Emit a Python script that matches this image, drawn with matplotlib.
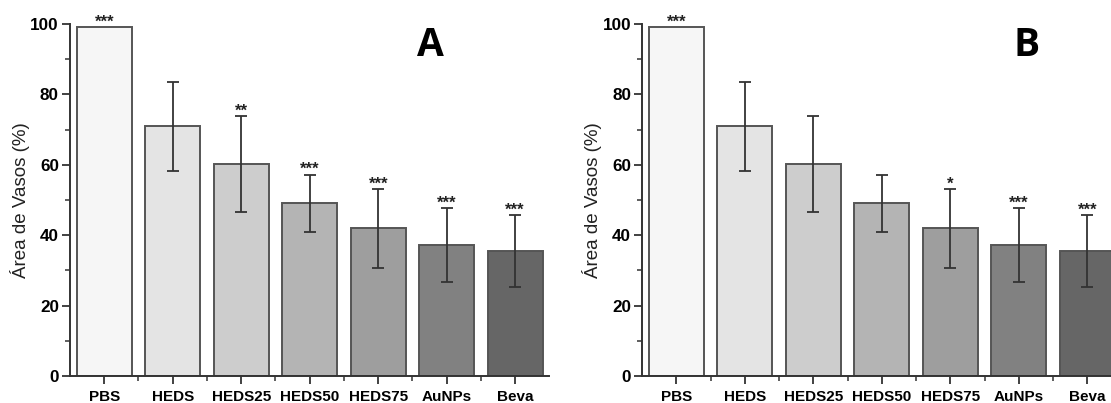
import matplotlib.pyplot as plt

plt.rcParams['font.family'] = ['Liberation Sans', 'DejaVu Sans']

# data
categories = ['PBS', 'HEDS', 'HEDS25', 'HEDS50', 'HEDS75', 'AuNPs', 'Beva']
area = [99.2, 70.9, 60.2, 49.1, 41.9, 37.2, 35.5]
err = [0, 12.7, 13.6, 8.1, 11.1, 10.4, 10.3]
stars_a = ['***', '', '**', '***', '***', '***', '***']
stars_b = ['***', '', '', '', '*', '***', '***']
bar_colors = ['#f6f6f6', '#e4e4e4', '#cdcdcd', '#b4b4b4', '#9e9e9e', '#818181', '#666666']

fig = plt.figure(figsize=(11.11, 4.03), dpi=100)
ax_a = fig.add_axes([0.063, 0.067, 0.4315, 0.8737])
ax_b = fig.add_axes([0.578, 0.067, 0.4315, 0.8737])


def draw_panel(ax, stars, letter, letter_x):
    x = range(len(categories))
    ax.bar(x, area, width=0.8, color=bar_colors, edgecolor='#555555', linewidth=1.4, zorder=2)
    for i in x:
        if err[i] > 0:
            ax.errorbar(i, area[i], yerr=err[i], fmt='none', ecolor='#333333',
                        elinewidth=1.3, capsize=4, capthick=1.3, zorder=3)
        if stars[i]:
            ax.annotate(stars[i], (i, area[i] + err[i]), xytext=(0, 0.3),
                        textcoords='offset points', ha='center', va='baseline',
                        fontsize=12, fontweight='bold', color='#222222')
    ax.set_xlim(-0.5, len(categories) - 0.5)
    ax.set_ylim(0, 100)
    ax.set_yticks([0, 20, 40, 60, 80, 100])
    ax.set_yticks([10, 30, 50, 70, 90], minor=True)
    ax.set_xticks(list(x))
    ax.set_xticks([i + 0.5 for i in range(len(categories) - 1)], minor=True)
    ax.set_xticklabels(categories, fontsize=11, fontweight='bold')
    for lab in ax.get_yticklabels():
        lab.set_fontsize(12.3)
        lab.set_fontweight('bold')
    ax.tick_params(axis='both', which='major', direction='out', length=6, width=1.3, color='#333333', pad=2)
    ax.tick_params(axis='x', which='major', pad=4)
    ax.tick_params(axis='both', which='minor', direction='out', length=3.5, width=1.1, color='#333333')
    for side in ['top', 'right']:
        ax.spines[side].set_visible(False)
    for side in ['left', 'bottom']:
        ax.spines[side].set_linewidth(1.4)
        ax.spines[side].set_color('#333333')
    ax.set_ylabel('Área de Vasos (%)', fontsize=13.5, color='#222222', labelpad=0)
    fig.text(letter_x, 0.887, letter, fontsize=28, fontweight='bold', ha='center', va='center',
             family=['Open Sans', 'DejaVu Sans'])


draw_panel(ax_a, stars_a, 'A', 430 / 1111)
draw_panel(ax_b, stars_b, 'B', 1027 / 1111)

plt.savefig('out.png', dpi=100)
plt.close()
